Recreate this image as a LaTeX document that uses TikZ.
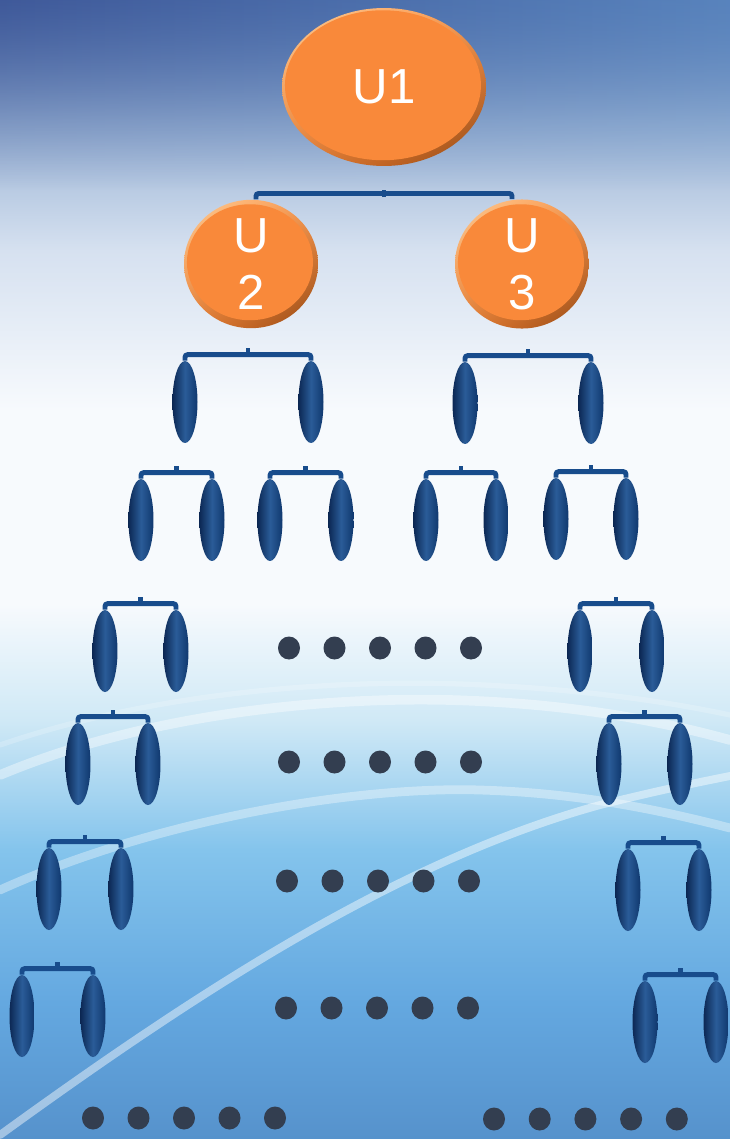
\documentclass[tikz,border=0pt]{standalone}
\usepackage{fontspec}
\setmainfont{Liberation Sans}
\usetikzlibrary{shapes.geometric, calc, fadings, shadings}

\definecolor{orangemain}{RGB}{249,137,58}
\definecolor{orangelite}{RGB}{255,205,150}
\definecolor{orangedeep}{RGB}{150,72,18}
\definecolor{leafdark}{RGB}{12,40,84}
\definecolor{leafmid}{RGB}{42,92,152}
\definecolor{leafedge}{RGB}{16,56,110}
\definecolor{linkblue}{RGB}{24,76,140}
\definecolor{dotgrey}{RGB}{51,62,80}
\definecolor{skytop}{RGB}{85,120,178}
\definecolor{skyhigh}{RGB}{152,178,212}
\definecolor{skyhaze}{RGB}{214,225,240}
\definecolor{skywhite}{RGB}{247,250,253}
\definecolor{skypale}{RGB}{208,233,246}
\definecolor{skylight}{RGB}{132,196,236}
\definecolor{skymid}{RGB}{100,168,224}
\definecolor{skylow}{RGB}{86,146,204}
\definecolor{skyleft}{RGB}{58,82,148}

\pgfdeclareverticalshading{skybg}{100bp}{color(0bp)=(skylow); color(25bp)=(skylow);
  color(31bp)=(skymid); color(37.7bp)=(skylight); color(43.4bp)=(skypale);
  color(48.5bp)=(skywhite); color(57bp)=(skywhite); color(64bp)=(skyhaze);
  color(69.7bp)=(skyhigh); color(75bp)=(skytop); color(100bp)=(skytop)}

% one pair of leaves under a bracket
\newcommand\pairlink[2]{%
  \draw[link] (#1.north) -- ++(0,-6) -| (#2.north);
  \draw[tick] ($(#1.north)!0.5!(#2.north)+(0,-6)$) -- ++(0,-7);}

\tikzset{
  unode/.style 2 args={ellipse, inner sep=0pt, minimum width=#1, minimum height=#2,
    text=white, font=\fontsize{28}{32.4}\selectfont, align=center,
    path picture={
      \shade[upper left=orangelite, upper right=orangemain!80!orangelite,
             lower left=orangemain!85!orangedeep, lower right=orangedeep]
        (path picture bounding box.south west) rectangle (path picture bounding box.north east);
      \fill[orangemain] ([xshift=-0.6pt, yshift=1pt]path picture bounding box.center)
        ellipse [x radius=#1/2-0.08cm, y radius=#2/2-0.08cm];}},
  leaf/.style={ellipse, inner sep=0pt, minimum width=0.5cm, minimum height=1.64cm,
    left color=leafdark, right color=leafedge, middle color=leafmid},
  link/.style={draw=linkblue, line width=2.8pt, rounded corners=1.5pt},
  tick/.style={draw=linkblue, line width=2.6pt},
  dot/.style={fill=dotgrey},
  streak/.style={draw=white, line cap=round, opacity=#1},
}

\begin{document}
\begin{tikzpicture}[x=0.02cm, y=-0.02cm]
  \useasboundingbox (0,0) rectangle (730,1139);
  % background
  \shade[shading=skybg] (0,0) rectangle (730,1139);
  \shade[left color=skyleft, right color=skytop!70!skymid, path fading=south, opacity=0.8]
    (0,0) rectangle (730,190);
  \draw[streak=0.4, line width=5.5pt] (0,775) .. controls (150,712) and (330,697) .. (450,700)
    .. controls (560,703) and (650,718) .. (730,740);
  \draw[streak=0.2, line width=3pt] (0,745) .. controls (160,690) and (340,680) .. (460,684)
    .. controls (570,688) and (660,700) .. (730,715);
  \draw[streak=0.35, line width=5pt] (0,890) .. controls (150,822) and (350,786) .. (480,790)
    .. controls (580,793) and (660,810) .. (730,828);
  \draw[streak=0.45, line width=4.5pt] (0,1135) .. controls (200,990) and (400,860) .. (600,805)
    .. controls (660,790) and (700,782) .. (730,776);

  % top of the tree
  \node[unode={4.08cm}{3.16cm}] (u1) at (384,87) {U1};
  \node[unode={2.68cm}{2.48cm}] (u2) at (251,264) {U\\2};
  \node[unode={2.68cm}{2.48cm}] (u3) at (522,264) {U\\3};
  \draw[link] ([xshift=0.1cm]u2.north) -- ++(0,-6) -| ([xshift=-0.2cm]u3.north);
  \draw[tick] (384,197) -- ++(0,-7);

  % third row
  \node[leaf] (r3a) at (185,402) {};
  \node[leaf] (r3b) at (311,402) {};
  \node[leaf] (r3c) at (465,403) {};
  \node[leaf] (r3d) at (591,403) {};
  \pairlink{r3a}{r3b}
  \pairlink{r3c}{r3d}

  % fourth row
  \node[leaf] (r4a) at (141,520) {};
  \node[leaf] (r4b) at (212,520) {};
  \node[leaf] (r4c) at (270,520) {};
  \node[leaf] (r4d) at (341,520) {};
  \node[leaf] (r4e) at (426,520) {};
  \node[leaf] (r4f) at (496,520) {};
  \node[leaf] (r4g) at (556,519) {};
  \node[leaf] (r4h) at (626,519) {};
  \pairlink{r4a}{r4b}
  \pairlink{r4c}{r4d}
  \pairlink{r4e}{r4f}
  \pairlink{r4g}{r4h}

  % outer rows
  \node[leaf] (r5a) at (105,651) {};
  \node[leaf] (r5b) at (176,651) {};
  \node[leaf] (r5c) at (580,651) {};
  \node[leaf] (r5d) at (652,651) {};
  \pairlink{r5a}{r5b}
  \pairlink{r5c}{r5d}

  \node[leaf] (r6a) at (78,764) {};
  \node[leaf] (r6b) at (148,764) {};
  \node[leaf] (r6c) at (609,764) {};
  \node[leaf] (r6d) at (680,764) {};
  \pairlink{r6a}{r6b}
  \pairlink{r6c}{r6d}

  \node[leaf] (r7a) at (49,889) {};
  \node[leaf] (r7b) at (121,889) {};
  \node[leaf] (r7c) at (628,890) {};
  \node[leaf] (r7d) at (699,890) {};
  \pairlink{r7a}{r7b}
  \pairlink{r7c}{r7d}

  \node[leaf] (r8a) at (22,1016) {};
  \node[leaf] (r8b) at (93,1016) {};
  \node[leaf] (r8c) at (645,1022) {};
  \node[leaf] (r8d) at (716,1022) {};
  \pairlink{r8a}{r8b}
  \pairlink{r8c}{r8d}

  % dots
  \foreach \y/\x in {648/289, 762/289, 881/287, 1008/286}
    \foreach \i in {0,...,4}
      \fill[dot] (\x+45.5*\i,\y) ellipse [x radius=11, y radius=11.5];
  \foreach \i in {0,...,4} {
    \fill[dot] (93+45.5*\i,1118) ellipse [x radius=11, y radius=11.5];
    \fill[dot] (494+45.7*\i,1119) ellipse [x radius=11, y radius=11.5];
  }
\end{tikzpicture}
\end{document}
